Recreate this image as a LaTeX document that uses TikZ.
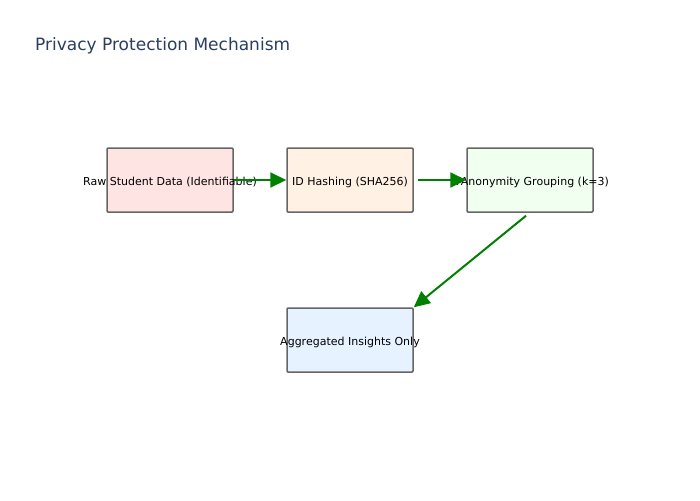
\documentclass[tikz,border=0pt]{standalone}
\usepackage{fontspec}
\setmainfont{DejaVu Sans}
\usetikzlibrary{arrows.meta}
\definecolor{titlec}{HTML}{2A3F5F}
\definecolor{edgec}{HTML}{666666}
\definecolor{arrc}{HTML}{008000}
\definecolor{fa}{HTML}{FFE4E4}
\definecolor{fb}{HTML}{FFF2E5}
\definecolor{fc}{HTML}{F0FFF0}
\definecolor{fd}{HTML}{E6F2FF}
\tikzset{
  stagebox/.style={draw=edgec, line width=1.5pt, rounded corners=1pt, minimum width=126pt, minimum height=64pt, inner sep=0pt},
  lbl/.style={font=\fontsize{11pt}{13pt}\selectfont, text=black, inner sep=0pt},
  flow/.style={draw=arrc, line width=2pt, -{Triangle[length=16pt,width=15pt]}},
}
\begin{document}
\begin{tikzpicture}[x=1pt,y=-1pt]
\useasboundingbox (0,0) rectangle (700,500);
\fill[white] (0,0) rectangle (700,500);
\node[anchor=west, text=titlec, font=\fontsize{17pt}{20pt}\selectfont, inner sep=0pt] (title) at (35,46) {Privacy Protection Mechanism};
\node[stagebox, fill=fa] (a) at (170,180) {};
\node[stagebox, fill=fb] (b) at (350,180) {};
\node[stagebox, fill=fc] (c) at (530,180) {};
\node[stagebox, fill=fd] (d) at (350,340) {};
\node[lbl] (ta) at (170,182) {Raw Student Data (Identifiable)};
\node[lbl] (tb) at (350,182) {ID Hashing (SHA256)};
\node[lbl] (tc) at (530,182) {K-Anonymity Grouping (k=3)};
\node[lbl] (td) at (350,342) {Aggregated Insights Only};
\draw[flow] (a.east) -- (b.west);
\draw[flow] ([xshift=4pt]b.east) -- (c.west);
\draw[flow] ([shift={(-4,3)}]c.south) -- (d.north east);
\end{tikzpicture}
\end{document}
